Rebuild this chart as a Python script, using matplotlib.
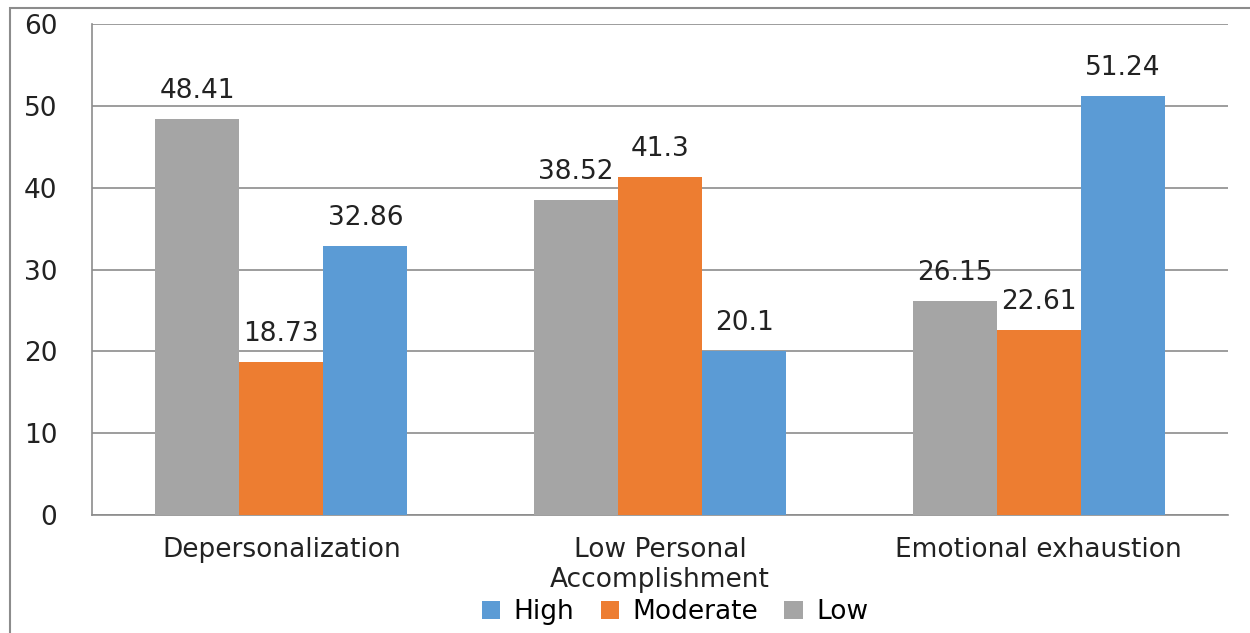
import numpy as np
import matplotlib.pyplot as plt
from matplotlib.patches import Rectangle

categories = ["Depersonalization", "Low Personal\nAccomplishment", "Emotional exhaustion"]
low = [48.41, 38.52, 26.15]
moderate = [18.73, 41.3, 22.61]
high = [32.86, 20.1, 51.24]

c_high = "#5b9bd5"
c_mod = "#ed7d31"
c_low = "#a5a5a5"
txt = "#222222"
fs = 19

plt.rcParams['font.family'] = ['DejaVu Sans']

fig = plt.figure(figsize=(12.5, 6.33), dpi=100)
ax = fig.add_axes([92 / 1250, 1 - 515 / 633, (1228 - 92) / 1250, (515 - 24) / 633])

# outer chart frame, open on the right and bottom
fig.patches.append(Rectangle((10 / 1250, -0.1), 1.2, 1 - 8 / 633 + 0.1,
                             transform=fig.transFigure, fill=False,
                             edgecolor="#8c8c8c", linewidth=1.5))

x = np.arange(len(categories)) + 0.5
w = 0.222

b_low = ax.bar(x - w, low, w, color=c_low, label="Low", zorder=3)
b_mod = ax.bar(x, moderate, w, color=c_mod, label="Moderate", zorder=3)
b_high = ax.bar(x + w, high, w, color=c_high, label="High", zorder=3)

for bars, vals in [(b_low, low), (b_mod, moderate), (b_high, high)]:
    for b, v in zip(bars, vals):
        ax.text(b.get_x() + b.get_width() / 2, v + 3.4, f"{v:g}",
                ha="center", va="center", fontsize=fs, color=txt, zorder=4)

ax.set_xlim(0, 3)
ax.set_ylim(0, 60)
ax.set_yticks(range(0, 61, 10))
ax.yaxis.grid(True, color="#8c8c8c", linewidth=1.2, zorder=0)
ax.set_axisbelow(True)

ax.set_xticks(x)
ax.set_xticklabels(categories, fontsize=fs, color=txt, linespacing=1.2)
ax.tick_params(axis="x", length=0, pad=16)
ax.tick_params(axis="y", length=0, pad=25, labelsize=fs, labelcolor=txt)

for s in ["top", "right"]:
    ax.spines[s].set_visible(False)
ax.spines["left"].set_color("#8c8c8c")
ax.spines["bottom"].set_color("#8c8c8c")
ax.spines["left"].set_linewidth(1.2)
ax.spines["bottom"].set_linewidth(1.2)

handles = [b_high, b_mod, b_low]
fig.legend(handles, ["High", "Moderate", "Low"], loc="center",
           bbox_to_anchor=(675 / 1250, 1 - 612 / 633), ncol=3, frameon=False,
           fontsize=fs, handlelength=0.7, handleheight=0.7, handletextpad=0.5,
           columnspacing=1.0, borderpad=0)

fig.savefig("out.png", dpi=100)
